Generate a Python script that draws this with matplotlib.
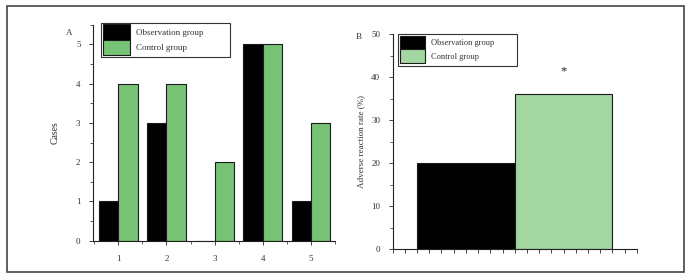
import matplotlib
matplotlib.use("Agg")
import matplotlib.pyplot as plt
from matplotlib.patches import Rectangle
from matplotlib.ticker import MultipleLocator, NullFormatter
import numpy as np

plt.rcParams['font.family'] = ['Liberation Serif', 'DejaVu Serif']

# Panel A data
categories = [1, 2, 3, 4, 5]
obs_cases = [1, 3, 0, 5, 1]
ctrl_cases = [4, 4, 2, 5, 3]

# Panel B data
groups = ["Observation group", "Control group"]
rates = [20, 36]

GREEN_A = "#76c376"
GREEN_B = "#a2d7a2"
EDGE = "#1a1a1a"
TXT = "#333333"
W, H = 692, 280


def fig_box(x0, y0, x1, y1):
    return (x0 / W, 1 - y1 / H, (x1 - x0) / W, (y1 - y0) / H)


fig = plt.figure(figsize=(6.92, 2.8), dpi=100)
fx, fy, fw, fh = fig_box(7, 6, 684, 272)
fig.patches.append(Rectangle((fx, fy), fw, fh, transform=fig.transFigure, fill=False,
                             edgecolor="#444444", linewidth=1.2))

# ---------- Panel A ----------
axA = fig.add_axes(fig_box(93, 24.7, 335, 240.7))
x = np.array(categories, dtype=float)
w = 0.4
axA.bar(x - w/2, obs_cases, width=w, color="black", edgecolor=EDGE, linewidth=0.8,
        label="Observation group")
axA.bar(x + w/2, ctrl_cases, width=w, color=GREEN_A, edgecolor=EDGE, linewidth=0.8,
        label="Control group")
axA.set_xlim(0.475, 5.5)
axA.set_ylim(0, 5.5)
axA.set_xticks(categories)
axA.xaxis.set_minor_locator(MultipleLocator(0.5))
axA.yaxis.set_major_locator(MultipleLocator(1))
axA.yaxis.set_minor_locator(MultipleLocator(0.5))
for s in ["top", "right"]:
    axA.spines[s].set_visible(False)
for s in ["left", "bottom"]:
    axA.spines[s].set_linewidth(0.8)
    axA.spines[s].set_color("#222222")
axA.tick_params(which="major", length=3, width=0.6, labelsize=6.5, colors="#222222",
                labelcolor=TXT, pad=6)
axA.tick_params(which="minor", length=2, width=0.5, colors="#222222")
axA.tick_params(axis="x", pad=7)
axA.set_ylabel("Cases", fontsize=7, color=TXT, labelpad=12)
axA.text(69/W, 1 - 33/H, "A", transform=fig.transFigure, fontsize=6.5,
         color=TXT, ha="center", va="center")
legA = axA.legend(loc="upper left", bbox_to_anchor=(103/W, 1 - 24.5/H),
                  bbox_transform=fig.transFigure,
                  fontsize=6.5, frameon=False,
                  handlelength=3.0, handleheight=2.2, handletextpad=0.6,
                  borderpad=0, labelspacing=0.0, borderaxespad=0)
for t in legA.get_texts():
    t.set_color(TXT)
for h in legA.legend_handles:
    h.set_edgecolor(EDGE)
lx, ly, lw, lh = fig_box(101, 23, 230, 57)
fig.patches.append(Rectangle((lx, ly), lw, lh, transform=fig.transFigure, fill=False,
                             edgecolor="#333333", linewidth=0.8))

# ---------- Panel B ----------
axB = fig.add_axes(fig_box(392.7, 34, 636.7, 249))
lefts = [2, 10]
widths = [8, 8]
colorsB = ["black", GREEN_B]
for xl, wd, v, c, lab in zip(lefts, widths, rates, colorsB, groups):
    axB.bar(xl, v, width=wd, align="edge", color=c, edgecolor=EDGE, linewidth=0.8,
            label=lab)
axB.text(14, 41.4, "*", fontsize=9, ha="center", va="center", color="#222222")
axB.set_xlim(0, 20)
axB.set_ylim(0, 50)
axB.xaxis.set_major_locator(MultipleLocator(1))
axB.xaxis.set_major_formatter(NullFormatter())
axB.yaxis.set_major_locator(MultipleLocator(10))
axB.yaxis.set_minor_locator(MultipleLocator(5))
for s in ["top", "right"]:
    axB.spines[s].set_visible(False)
for s in ["left", "bottom"]:
    axB.spines[s].set_linewidth(0.8)
    axB.spines[s].set_color("#222222")
axB.tick_params(which="major", length=3, width=0.6, labelsize=6.5, colors="#222222",
                labelcolor=TXT, pad=6)
axB.tick_params(which="minor", length=2, width=0.5, colors="#222222")
axB.set_ylabel("Adverse reaction rate (%)", fontsize=6.5, color=TXT, labelpad=4)
axB.text(359/W, 1 - 37/H, "B", transform=fig.transFigure, fontsize=6.5,
         color=TXT, ha="center", va="center")
legB = axB.legend(loc="upper left", bbox_to_anchor=(400/W, 1 - 35.5/H),
                  bbox_transform=fig.transFigure,
                  fontsize=6, frameon=False,
                  handlelength=3.0, handleheight=2.15, handletextpad=0.7,
                  borderpad=0, labelspacing=0.0, borderaxespad=0)
for t in legB.get_texts():
    t.set_color(TXT)
for h in legB.legend_handles:
    h.set_edgecolor(EDGE)
lx, ly, lw, lh = fig_box(398, 34, 517, 66)
fig.patches.append(Rectangle((lx, ly), lw, lh, transform=fig.transFigure, fill=False,
                             edgecolor="#333333", linewidth=0.8))

fig.savefig("out.png", dpi=100)
